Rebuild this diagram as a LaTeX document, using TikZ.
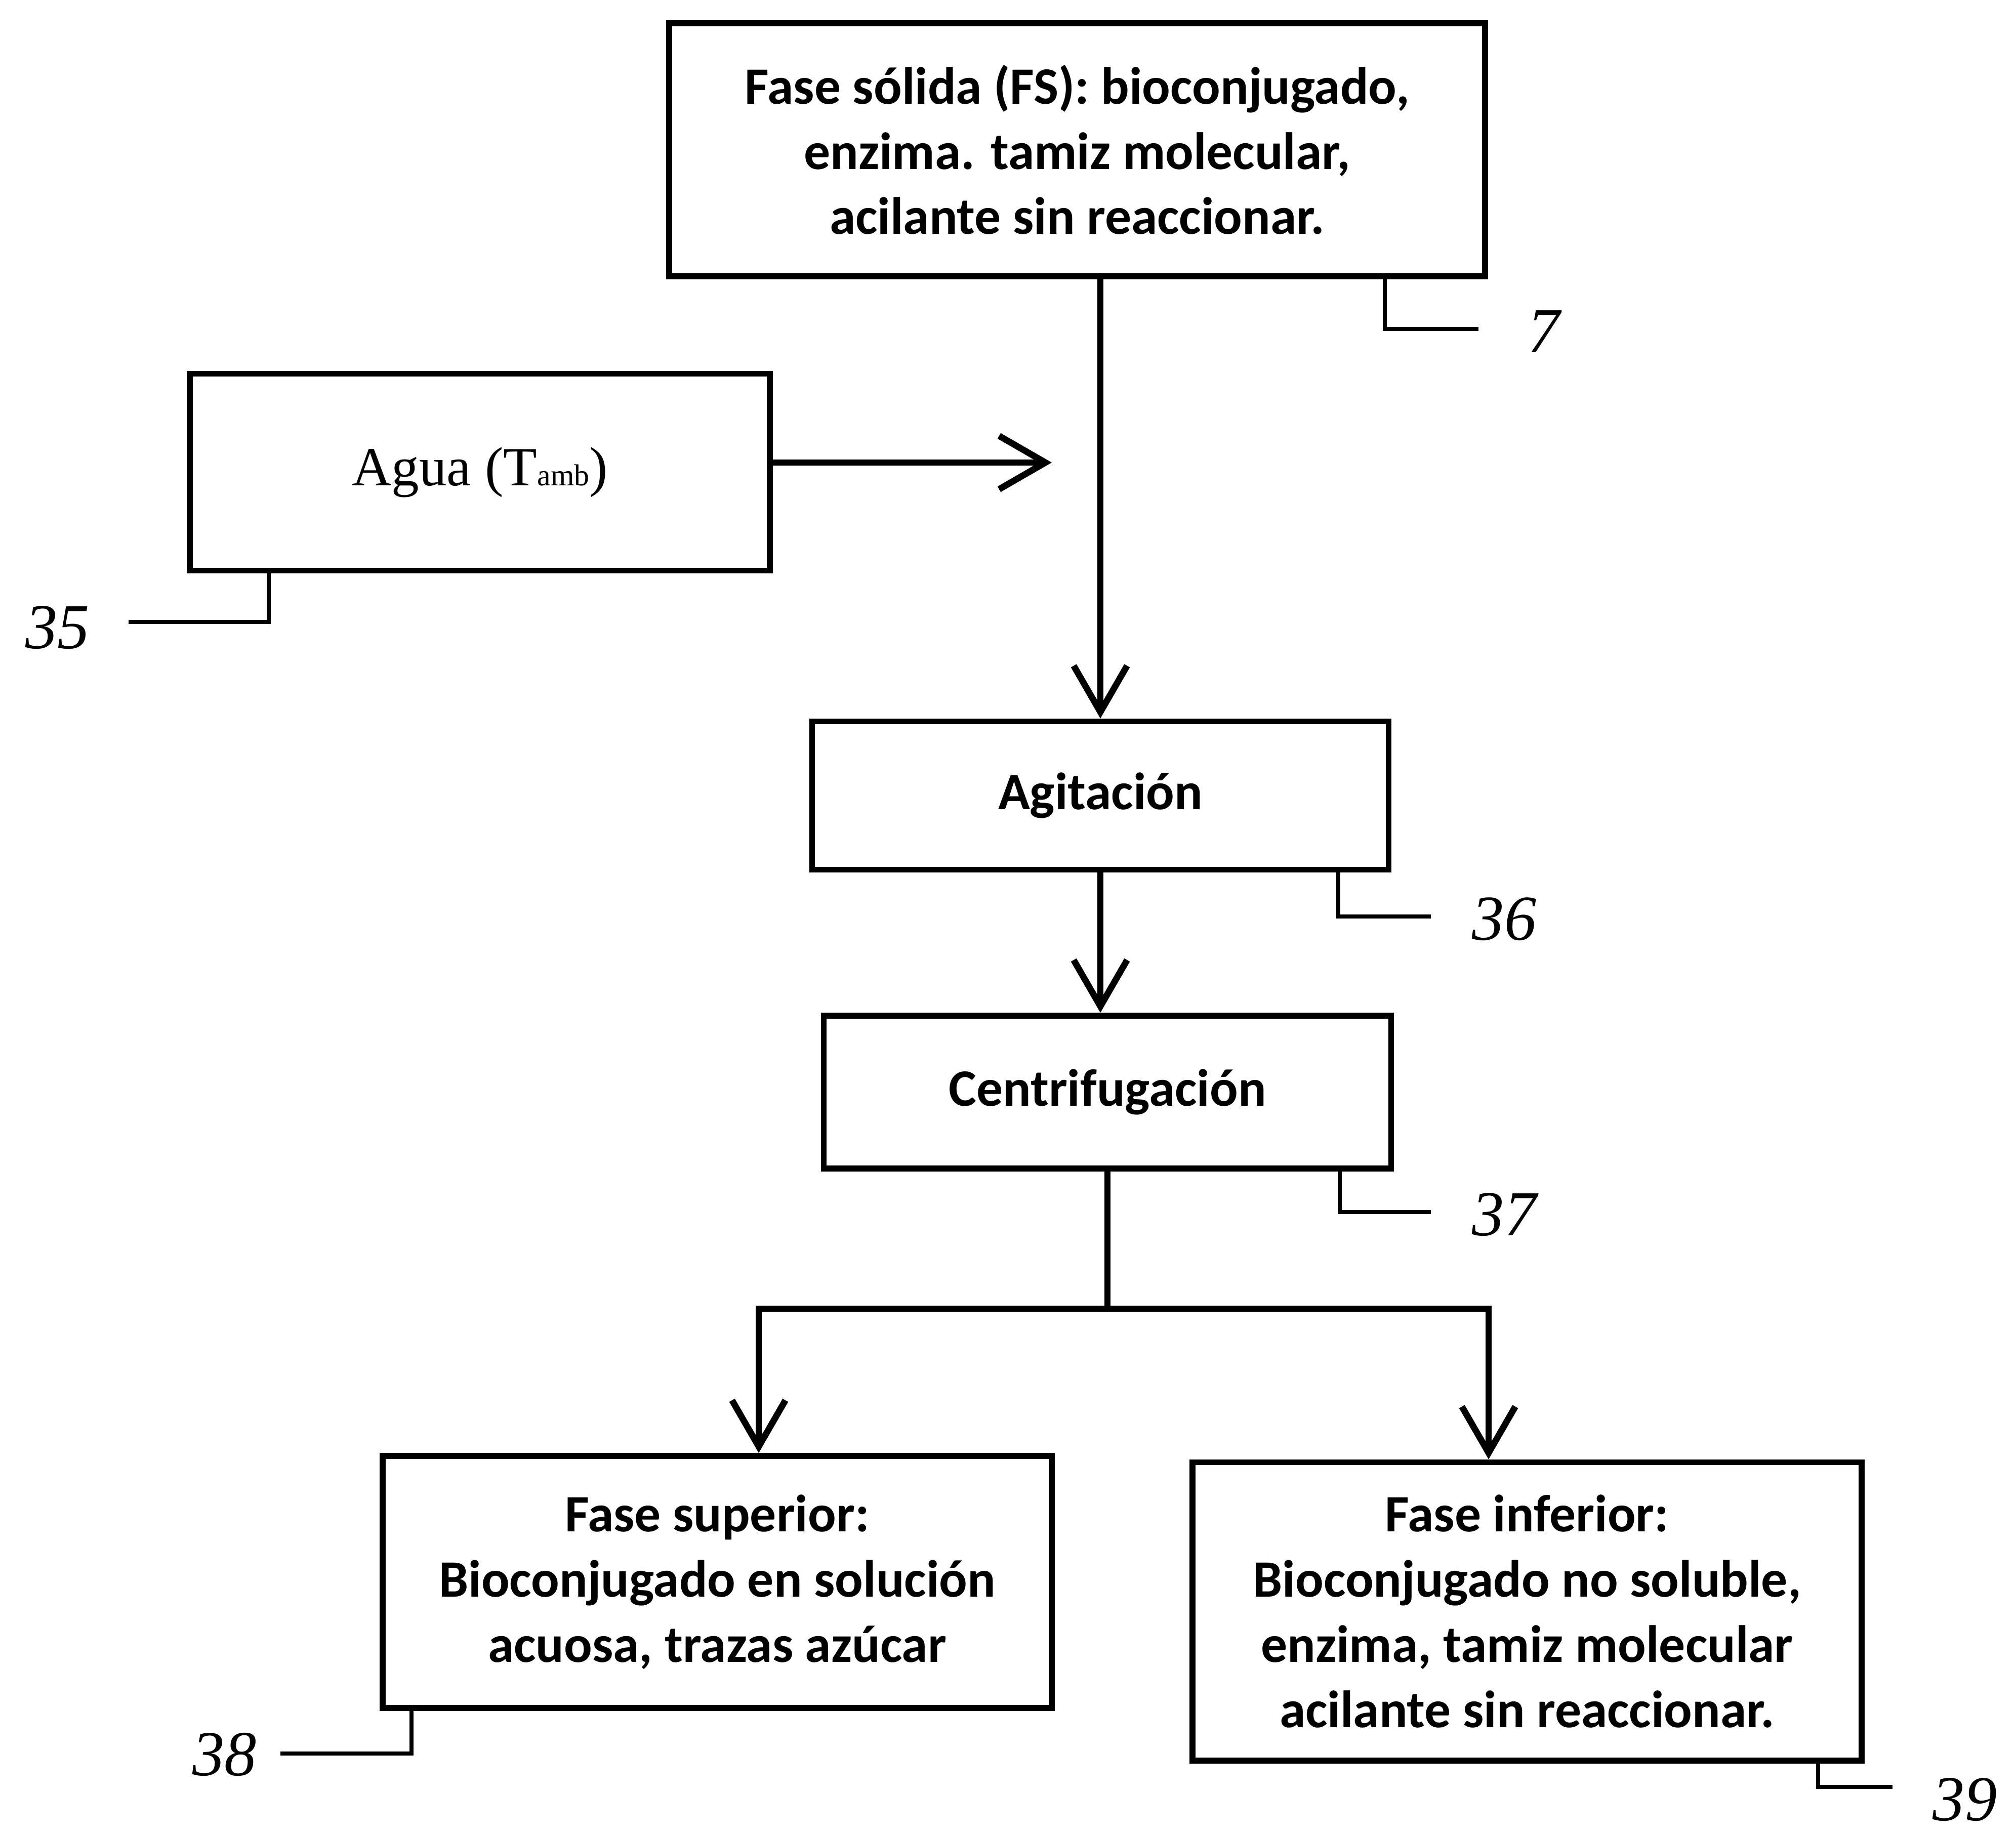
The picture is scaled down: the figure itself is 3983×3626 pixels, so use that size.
\documentclass[tikz,border=0pt]{standalone}
\usepackage{fontspec}
\setmainfont{Carlito}
\newfontfamily\numfont{Liberation Serif}
\usetikzlibrary{arrows.meta}

\begin{document}
\begin{tikzpicture}[x=0.01cm,y=-0.01cm,
  box/.style={draw, line width=3.3pt, align=center, inner sep=0pt,
              font=\bfseries\fontsize{29.5}{36.6}\selectfont},
  flow/.style={line width=3.6pt, -{Straight Barb[length=26pt,width=30pt]}},
  link/.style={line width=3.6pt},
  leader/.style={line width=2.4pt},
  num/.style={inner sep=0pt, font=\numfont\itshape\fontsize{36}{36}\selectfont}
]
\useasboundingbox (0,0) rectangle (3983,3626);

% process boxes
\node[box, minimum width=16.11cm, minimum height=5cm] (solid) at (2128,296)
  {Fase sólida (FS): bioconjugado,\\enzima. tamiz molecular,\\acilante sin reaccionar.};
\node[box, minimum width=11.45cm, minimum height=3.89cm,
      font=\numfont\fontsize{31}{36.6}\selectfont] (agua) at (948,933)
  {Agua (T{\fontsize{17}{17}\selectfont amb})};
\node[box, minimum width=11.38cm, minimum height=2.93cm] (agit) at (2174,1572) {Agitación};
\node[box, minimum width=11.2cm, minimum height=3.02cm] (centrif) at (2188,2158) {Centrifugación};
\node[box, minimum width=13.21cm, minimum height=4.98cm] (upper) at (1417,3126)
  {Fase superior:\\Bioconjugado en solución\\acuosa, trazas azúcar};
\node[box, minimum width=13.21cm, minimum height=5.89cm] (lower) at (3017,3184)
  {Fase inferior:\\Bioconjugado no soluble,\\enzima, tamiz molecular\\acilante sin reaccionar.};

% flow connectors
\coordinate (waterin) at (2078,914);
\coordinate (jL) at (1499,2586);
\coordinate (jR) at (2941,2586);
\draw[flow] (agit.north |- solid.south) -- (agit.north);
\draw[flow] (agua.east |- waterin) -- (waterin);
\draw[flow] (agit.south) -- (agit.south |- centrif.north);
\draw[link] (centrif.south) -- (centrif.south |- jL);
\draw[flow] (centrif.south |- jL) -- (jL) -- (jL |- upper.north);
\draw[flow] (centrif.south |- jR) -- (jR) -- (jR |- lower.north);

% reference numerals
\node[num, anchor=west] (n7) at (3018,655) {7};
\node[num, anchor=east] (n35) at (178,1240) {35};
\node[num, anchor=west] (n36) at (2908,1816) {36};
\node[num, anchor=west] (n37) at (2908,2400) {37};
\node[num, anchor=east] (n38) at (508,3467) {38};
\node[num, anchor=west] (n39) at (3818,3556) {39};

\coordinate (k7) at (2736,650);
\coordinate (k35) at (531,1229);
\coordinate (k36) at (2644,1811);
\coordinate (k37) at (2647,2395);
\coordinate (k38) at (813,3465);
\coordinate (k39) at (3592,3531);

\draw[leader, shorten >=0.97cm] (k7 |- solid.south) -- (k7) -- (k7 -| n7.west);
\draw[leader, shorten >=0.76cm] (k35 |- agua.south) -- (k35) -- (k35 -| n35.east);
\draw[leader, shorten >=0.81cm] (k36 |- agit.south) -- (k36) -- (k36 -| n36.west);
\draw[leader, shorten >=0.81cm] (k37 |- centrif.south) -- (k37) -- (k37 -| n37.west);
\draw[leader, shorten >=0.46cm] (k38 |- upper.south) -- (k38) -- (k38 -| n38.east);
\draw[leader, shorten >=0.79cm] (k39 |- lower.south) -- (k39) -- (k39 -| n39.west);
\end{tikzpicture}
\end{document}
